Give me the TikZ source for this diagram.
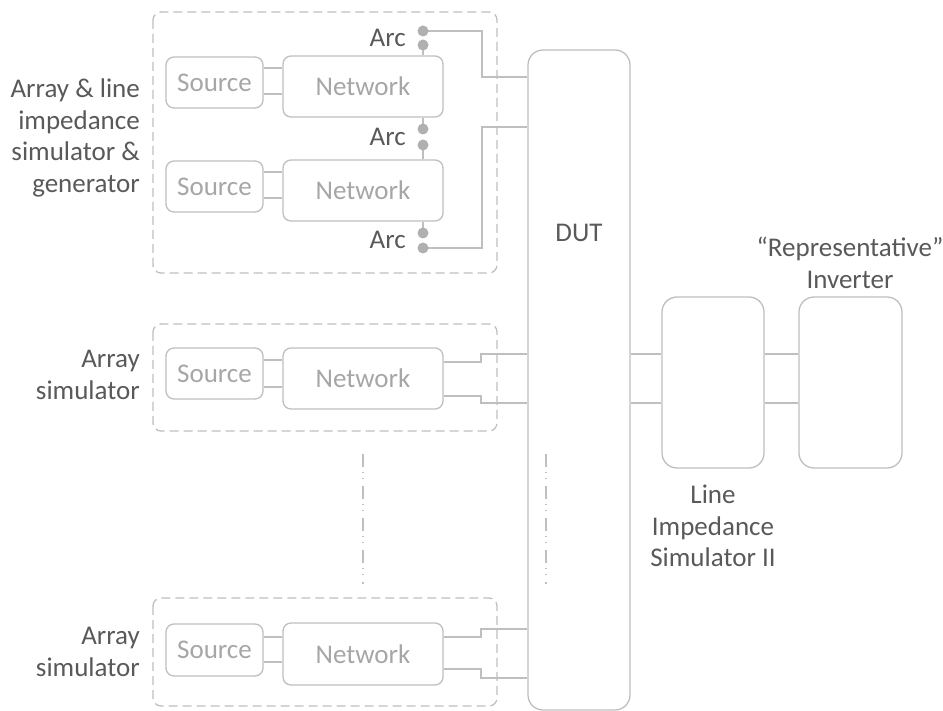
\documentclass[tikz,border=0pt]{standalone}
\usepackage{fontspec}
\setmainfont{Carlito}
\definecolor{ln}{HTML}{BFBFBF}
\definecolor{dt}{HTML}{B0B0B0}
\definecolor{lt}{HTML}{A6A6A6}
\definecolor{dk}{HTML}{595959}
\tikzset{
  box/.style={draw=ln, line width=1.3pt, rounded corners=8pt, inner sep=0pt, text=lt,
    font=\fontsize{27}{31}\selectfont},
  bigbox/.style={draw=ln, line width=1.3pt, rounded corners=15pt, inner sep=0pt},
  group/.style={draw=ln, line width=1.3pt, rounded corners=8pt, dash pattern=on 9pt off 5pt},
  wire/.style={draw=ln, line width=1.3pt},
  arcdot/.style={circle, fill=dt, draw=none, inner sep=0pt, minimum size=11pt},
  lbl/.style={text=dk, font=\fontsize{27}{31.5}\selectfont, inner sep=0pt, align=right},
  clbl/.style={text=dk, font=\fontsize{27}{31.5}\selectfont, inner sep=0pt, align=center},
  ddot/.style={draw=ln, line width=1.3pt, dash pattern=on 13pt off 5pt on 1pt off 5pt on 1pt off 7pt}
}
\begin{document}
\begin{tikzpicture}[x=1pt,y=-1pt]
\useasboundingbox (0,0) rectangle (943,711);
% groups
\draw[group] (153,12) rectangle (497,273);
\draw[group] (153,324) rectangle (497,431);
\draw[group] (153,598) rectangle (497,706);
% sources & networks
\node[box, minimum width=97pt, minimum height=51pt] (src1) at (214.5,82.5) {Source};
\node[box, minimum width=160pt, minimum height=61pt] (net1) at (363,86.5) {Network};
\node[box, minimum width=97pt, minimum height=51pt] (src2) at (214.5,186.5) {Source};
\node[box, minimum width=160pt, minimum height=61pt] (net2) at (363,190.5) {Network};
\node[box, minimum width=97pt, minimum height=51pt] (src3) at (214.5,373.5) {Source};
\node[box, minimum width=160pt, minimum height=61pt] (net3) at (363,378.5) {Network};
\node[box, minimum width=97pt, minimum height=52pt] (src4) at (214.5,650) {Source};
\node[box, minimum width=160pt, minimum height=62pt] (net4) at (363,654) {Network};
% DUT, LIS, inverter
\node[bigbox, minimum width=102pt, minimum height=660pt] (dut) at (579,380) {};
\node[clbl] (dutl) at (579,233) {DUT};
\node[bigbox, minimum width=102pt, minimum height=171pt] (lis) at (713,382.5) {};
\node[bigbox, minimum width=103pt, minimum height=171pt] (inv) at (850.5,382.5) {};
% source-network links
\draw[wire] (src1.east |- 0,68) -- (net1.west |- 0,68);
\draw[wire] (src1.east |- 0,94) -- (net1.west |- 0,94);
\draw[wire] (src2.east |- 0,172) -- (net2.west |- 0,172);
\draw[wire] (src2.east |- 0,198) -- (net2.west |- 0,198);
\draw[wire] (src3.east |- 0,360) -- (net3.west |- 0,360);
\draw[wire] (src3.east |- 0,387) -- (net3.west |- 0,387);
\draw[wire] (src4.east |- 0,637) -- (net4.west |- 0,637);
\draw[wire] (src4.east |- 0,662) -- (net4.west |- 0,662);
% arc dots
\coordinate (a1) at (423,31);
\coordinate (a2) at (423,45);
\coordinate (a3) at (423,129);
\coordinate (a4) at (423,145);
\coordinate (a5) at (423,233);
\coordinate (a6) at (423,248);
\draw[wire] (a2) -- (net1.north -| a2);
\draw[wire] (net1.south -| a3) -- (a3);
\draw[wire] (a4) -- (net2.north -| a4);
\draw[wire] (net2.south -| a5) -- (a5);
\draw[wire] (a1) -- (482,31) -- (482,77) -- (dut.west |- 0,77);
\draw[wire] (a6) -- (482,248) -- (482,127) -- (dut.west |- 0,127);
\foreach \i in {1,...,6} \node[arcdot] (d\i) at (a\i) {};
\node[lbl, anchor=east] (arc1) at (406,38) {Arc};
\node[lbl, anchor=east] (arc2) at (406,137) {Arc};
\node[lbl, anchor=east] (arc3) at (406,240) {Arc};
% array simulators to DUT
\draw[wire] (net3.east |- 0,362) -- (481,362) -- (481,354) -- (dut.west |- 0,354);
\draw[wire] (net3.east |- 0,396) -- (481,396) -- (481,403) -- (dut.west |- 0,403);
\draw[wire] (net4.east |- 0,637) -- (481,637) -- (481,629) -- (dut.west |- 0,629);
\draw[wire] (net4.east |- 0,669) -- (481,669) -- (481,678) -- (dut.west |- 0,678);
% DUT to LIS to inverter
\draw[wire] (dut.east |- 0,354) -- (lis.west |- 0,354);
\draw[wire] (dut.east |- 0,403) -- (lis.west |- 0,403);
\draw[wire] (lis.east |- 0,354) -- (inv.west |- 0,354);
\draw[wire] (lis.east |- 0,403) -- (inv.west |- 0,403);
% ellipsis lines
\draw[ddot] (363,454) -- (363,584);
\draw[ddot] (546,454) -- (546,584);
% labels
\node[lbl, anchor=east] (g1) at (140,138) {Array \& line\\impedance\\simulator \&\\generator};
\node[lbl, anchor=east] (g2) at (140,375) {Array\\simulator};
\node[lbl, anchor=east] (g3) at (140,652) {Array\\simulator};
\node[clbl] (invl) at (850,263) {“Representative”\\Inverter};
\node[clbl] (lisl) at (713,526) {Line\\Impedance\\Simulator II};
\end{tikzpicture}
\end{document}
